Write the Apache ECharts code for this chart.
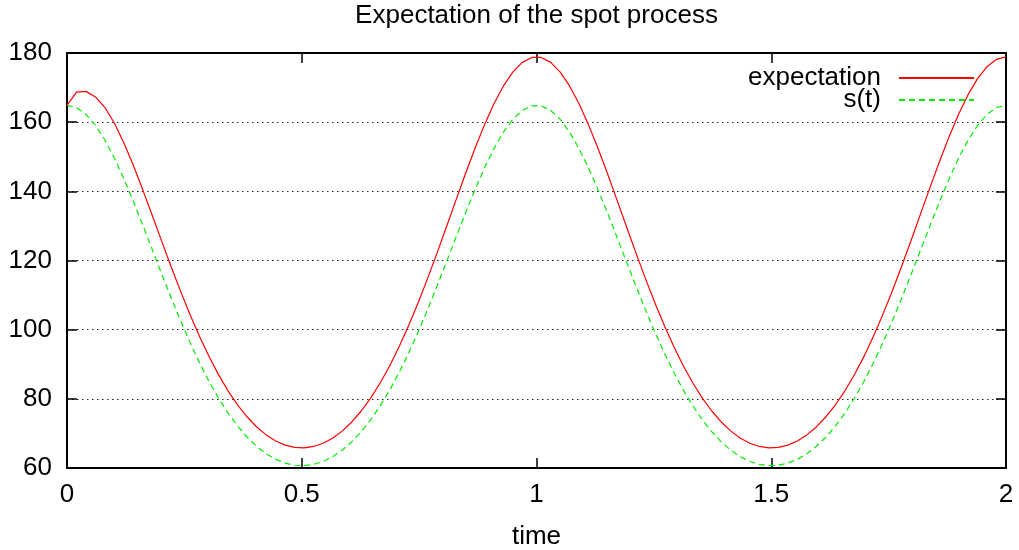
<!DOCTYPE html>
<html>
<head>
<meta charset="utf-8">
<script src="https://cdn.jsdelivr.net/npm/echarts@6/dist/echarts.min.js"></script>
<style>
html,body{margin:0;padding:0;background:#fff;}
#chart{width:1019px;height:550px;}
</style>
</head>
<body>
<div id="chart"></div>
<script>
// gnuplot default sampling: 100 samples on [0, 2]
const sampleCount = 100;
const tMax = 2;
const times = Array.from({length: sampleCount}, (_, i) => i * tMax / (sampleCount - 1));

const expectation = [
  164.87,168.7,168.9,167.3,164.23,159.69,153.99,147.46,140.36,132.96,
  125.46,118.07,110.93,104.15,97.86,92.07,86.86,82.23,78.19,74.74,
  71.86,69.57,67.82,66.62,65.96,65.83,66.23,67.15,68.63,70.66,
  73.24,76.41,80.15,84.50,89.44,94.97,101.05,107.64,114.68,122.07,
  129.70,137.39,145.01,152.32,159.14,165.23,170.41,174.48,177.28,178.71,
  178.71,177.28,174.48,170.41,165.23,159.14,152.32,145.01,137.39,129.70,
  122.07,114.68,107.64,101.05,94.97,89.44,84.50,80.15,76.41,73.24,
  70.66,68.63,67.15,66.23,65.83,65.96,66.62,67.82,69.57,71.87,
  74.75,78.21,82.25,86.90,92.13,97.94,104.28,111.11,118.34,125.86,
  133.55,141.22,148.71,155.81,162.29,167.95,172.59,176.04,178.17,178.88
];

const spot = [
  164.87,164.21,162.25,159.07,154.79,149.58,143.60,137.06,130.16,123.09,
  116.00,109.07,102.41,96.11,90.27,84.91,80.09,75.81,72.08,68.89,
  66.24,64.12,62.51,61.40,60.79,60.67,61.04,61.89,63.25,65.12,
  67.50,70.42,73.87,77.88,82.43,87.53,93.13,99.21,105.70,112.51,
  119.54,126.63,133.65,140.39,146.67,152.29,157.06,160.81,163.39,164.71,
  164.71,163.39,160.81,157.06,152.29,146.67,140.39,133.65,126.63,119.54,
  112.51,105.70,99.21,93.13,87.53,82.43,77.88,73.87,70.42,67.50,
  65.12,63.25,61.89,61.04,60.67,60.79,61.40,62.51,64.12,66.24,
  68.89,72.08,75.81,80.09,84.91,90.27,96.11,102.41,109.07,116.00,
  123.09,130.16,137.06,143.60,149.58,154.79,159.07,162.25,164.21,164.87
];

const seriesNames = ['expectation', 's(t)'];
const titleText = 'Expectation of the spot process';
const xName = 'time';

const FONT = 'Liberation Sans, Arial, Helvetica, sans-serif';
const FS = 26;

const chart = echarts.init(document.getElementById('chart'), null, {renderer: 'canvas'});

const axisLine = {show: true, onZero: false, lineStyle: {color: '#000', width: 2}};
const tickIn = {show: true, inside: true, length: 10, lineStyle: {color: '#000', width: 1.5}};

function legendFor(name, top) {
  return {
    data: [name],
    right: 44, top: top, padding: 0, align: 'right',
    itemWidth: 75, itemHeight: 14,
    itemStyle: {opacity: 0},
    textStyle: {fontFamily: FONT, fontSize: FS, color: '#000', padding: [0, 13, 0, 0]}
  };
}

chart.setOption({
  animation: false,
  backgroundColor: '#fff',
  title: {
    text: titleText,
    left: 536.5,
    top: 3,
    textAlign: 'center',
    padding: 0,
    textStyle: {fontFamily: FONT, fontSize: FS, fontWeight: 'normal', color: '#000'}
  },
  legend: [legendFor(seriesNames[0], 65), legendFor(seriesNames[1], 87)],
  grid: {left: 67, right: 13, top: 53, bottom: 82, containLabel: false, outerBoundsMode: 'none'},
  xAxis: [
    {
      type: 'value', min: 0, max: 2, interval: 0.5, position: 'bottom',
      name: xName, nameLocation: 'middle', nameGap: 56,
      nameTextStyle: {fontFamily: FONT, fontSize: FS, color: '#000'},
      axisLine: axisLine, axisTick: tickIn,
      axisLabel: {fontFamily: FONT, fontSize: FS, color: '#000', margin: 14},
      splitLine: {show: false}
    },
    {
      type: 'value', min: 0, max: 2, interval: 0.5, position: 'top',
      axisLine: axisLine, axisTick: tickIn,
      axisLabel: {show: false}, splitLine: {show: false}
    }
  ],
  yAxis: [
    {
      type: 'value', min: 60, max: 180, interval: 20, position: 'left',
      axisLine: axisLine, axisTick: tickIn,
      axisLabel: {fontFamily: FONT, fontSize: FS, color: '#000', margin: 15},
      splitLine: {show: true, lineStyle: {color: '#222', width: 1, type: [1.5, 3.5]}}
    },
    {
      type: 'value', min: 60, max: 180, interval: 20, position: 'right',
      axisLine: axisLine, axisTick: tickIn,
      axisLabel: {show: false}, splitLine: {show: false}
    }
  ],
  series: [
    {
      name: seriesNames[0], type: 'line', xAxisIndex: 0, yAxisIndex: 0,
      data: times.map((t, i) => [t, expectation[i]]),
      symbol: 'none', showSymbol: false,
      lineStyle: {color: '#ff0000', width: 1.2},
      itemStyle: {color: '#ff0000'},
      z: 3
    },
    {
      name: seriesNames[1], type: 'line', xAxisIndex: 0, yAxisIndex: 0,
      data: times.map((t, i) => [t, spot[i]]),
      symbol: 'none', showSymbol: false,
      lineStyle: {color: '#00ee00', width: 1.2, type: [6, 4]},
      itemStyle: {color: '#00ee00'},
      z: 2
    }
  ]
});
</script>
</body>
</html>
